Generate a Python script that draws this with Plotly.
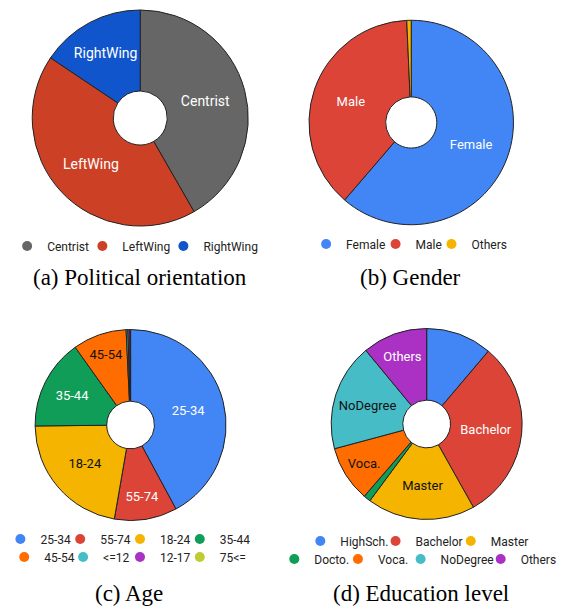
import plotly.graph_objects as go

# ---------------- data ----------------
pol_labels = ["Centrist", "LeftWing", "RightWing"]
pol_values = [41.7, 42.7, 15.6]
pol_colors = ["#666666", "#CC4125", "#1155CC"]
pol_text = ["Centrist", "LeftWing", "RightWing"]
pol_textcolor = ["white", "white", "white"]

gen_labels = ["Female", "Male", "Others"]
gen_values = [61.3, 38.0, 0.7]
gen_colors = ["#4285F4", "#DB4437", "#F4B400"]
gen_text = ["Female", "Male", ""]
gen_textcolor = ["white", "white", "black"]

age_labels = ["25-34", "55-74", "18-24", "35-44", "45-54", "<=12", "12-17", "75<="]
age_values = [42.1, 10.6, 22.1, 15.3, 9.1, 0.3, 0.3, 0.15]
age_colors = ["#4285F4", "#DB4437", "#F4B400", "#0F9D58", "#FF6D00", "#46BDC6", "#AB30C4", "#C0CA33"]
age_text = ["25-34", "55-74", "18-24", "35-44", "45-54", "", "", ""]
age_textcolor = ["white", "white", "#111111", "white", "#111111", "black", "black", "black"]

edu_labels = ["HighSch.", "Bachelor", "Master", "Docto.", "Voca.", "NoDegree", "Others"]
edu_values = [11.2, 30.7, 18.3, 1.2, 9.5, 18.2, 11.0]
edu_colors = ["#4285F4", "#DB4437", "#F4B400", "#0F9D58", "#FF6D00", "#46BDC6", "#AB30C4"]
edu_text = ["", "Bachelor", "Master", "", "Voca.", "NoDegree", "Others"]
edu_textcolor = ["white", "white", "#111111", "white", "#111111", "#111111", "white"]

captions = ["(a) Political orientation", "(b) Gender", "(c) Age", "(d) Education level"]

# ---------------- layout (pixels) ----------------
W, H = 562, 608
pie_geom = [(134, 118, 112), (415, 122.5, 106), (124, 425, 99), (431, 424, 99)]
pie_font = [14, 13, 13, 13]
# legend symbol centres for every item, grouped per chart
leg_pos = [
    [(20, 246), (98, 246), (182, 246)],
    [(330, 244), (402, 244), (460, 244)],
    [(13, 539), (75, 539), (137, 539), (199, 539),
     (17, 557), (78, 557), (137, 557), (199, 557)],
    [(324, 541), (402, 541), (480, 541),
     (297, 559), (363, 559), (428, 559), (511, 559)],
]
cap_pos = [(134, 277), (414, 277), (122, 593), (425, 593)]
SYM_OFF = 24  # legend box left edge -> symbol centre (plotly draws it at 20, text at 40)


def px_dom(cx, cy, r):
    return dict(x=[(cx - r) / W, (cx + r) / W], y=[1 - (cy + r) / H, 1 - (cy - r) / H])


fig = go.Figure()

pies = [
    (pol_labels, pol_values, pol_colors, pol_text, pol_textcolor),
    (gen_labels, gen_values, gen_colors, gen_text, gen_textcolor),
    (age_labels, age_values, age_colors, age_text, age_textcolor),
    (edu_labels, edu_values, edu_colors, edu_text, edu_textcolor),
]

for (labels, values, colors, text, tcol), geom, fs in zip(pies, pie_geom, pie_font):
    fig.add_trace(go.Pie(
        labels=labels, values=values, text=text,
        textinfo="text", textposition="inside",
        insidetextorientation="horizontal",
        insidetextfont=dict(family="Roboto", size=fs, color=tcol),
        marker=dict(colors=colors, line=dict(color="#222222", width=1)),
        hole=0.25, sort=False, direction="clockwise", rotation=0,
        domain=px_dom(*geom), showlegend=False, hoverinfo="label+percent",
    ))

leg_font = dict(family="Roboto", size=12, color="#222222")
legends = {}
n = 0
for (labels, values, colors, text, tcol), positions in zip(pies, leg_pos):
    for lab, col, (mx, my) in zip(labels, colors, positions):
        n += 1
        lid = "legend" if n == 1 else f"legend{n}"
        fig.add_trace(go.Scatter(
            x=[None], y=[None], mode="markers", name=lab,
            marker=dict(symbol="circle", size=10, color=col),
            legend=lid, showlegend=True, hoverinfo="skip",
        ))
        legends[lid] = dict(orientation="h", x=(mx - SYM_OFF) / W, xanchor="left",
                            y=1 - my / H, yanchor="middle", font=leg_font,
                            bgcolor="rgba(0,0,0,0)", itemsizing="trace",
                            itemclick=False, itemdoubleclick=False)

fig.update_layout(
    width=W, height=H,
    margin=dict(l=0, r=0, t=0, b=0),
    paper_bgcolor="white", plot_bgcolor="white",
    xaxis=dict(visible=False), yaxis=dict(visible=False),
    showlegend=True,
    **legends,
)

for cap, (cx, cy) in zip(captions, cap_pos):
    fig.add_annotation(text=cap, x=cx / W, y=1 - cy / H, xref="paper", yref="paper",
                       xanchor="center", yanchor="middle", showarrow=False,
                       font=dict(family="Liberation Serif", size=23, color="black"))

fig.write_html("out.html", config={"displayModeBar": False},
               post_script="document.body.style.margin='0px';")
